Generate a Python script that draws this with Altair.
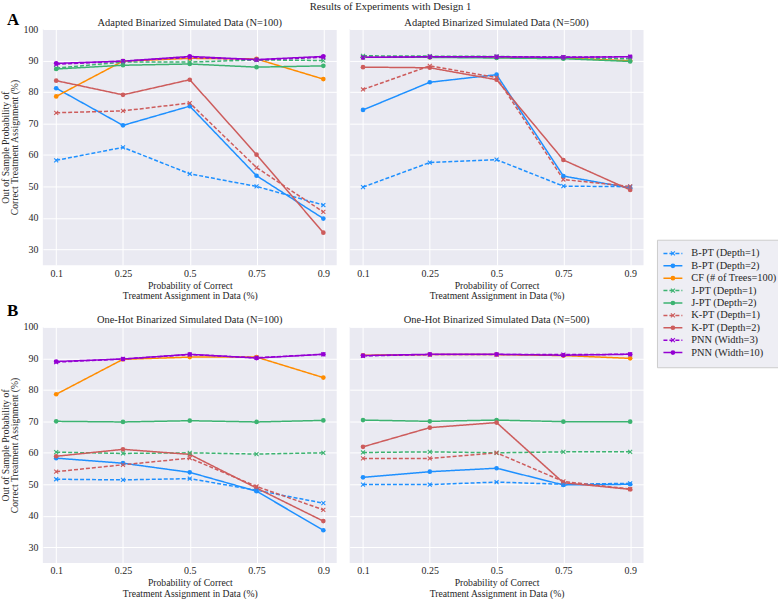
import altair as alt
import pandas as pd

# Treatment-assignment probabilities on the x axis
probs = ["0.1", "0.25", "0.5", "0.75", "0.9"]

series = [
    "B-PT (Depth=1)", "B-PT (Depth=2)", "CF (# of Trees=100)",
    "J-PT (Depth=1)", "J-PT (Depth=2)", "K-PT (Depth=1)",
    "K-PT (Depth=2)", "PNN (Width=3)", "PNN (Width=10)",
]
colors = ["#1e90ff", "#1e90ff", "#ff8c00", "#3cb371", "#3cb371",
          "#cd5c5c", "#cd5c5c", "#9400d3", "#9400d3"]
dashes = [[4, 2], [1, 0], [1, 0], [4, 2], [1, 0], [4, 2], [1, 0], [4, 2], [1, 0]]
markers = ["x", "o", "o", "x", "o", "x", "o", "x", "o"]

# Out-of-sample accuracy (%) per method, one list per probability level
adapted_100 = {
    "B-PT (Depth=1)": [58.3, 62.4, 54.0, 50.0, 44.1],
    "B-PT (Depth=2)": [81.2, 69.4, 75.5, 53.4, 39.8],
    "CF (# of Trees=100)": [78.6, 89.8, 90.7, 90.5, 84.1],
    "J-PT (Depth=1)": [87.6, 89.5, 89.5, 90.2, 90.0],
    "J-PT (Depth=2)": [87.3, 88.5, 88.9, 87.9, 88.3],
    "K-PT (Depth=1)": [73.4, 74.0, 76.5, 56.0, 41.9],
    "K-PT (Depth=2)": [83.6, 79.1, 83.9, 60.1, 35.3],
    "PNN (Width=3)": [88.8, 89.8, 91.0, 90.2, 91.0],
    "PNN (Width=10)": [89.1, 89.8, 91.3, 90.3, 91.3],
}
adapted_500 = {
    "B-PT (Depth=1)": [49.8, 57.6, 58.5, 50.1, 49.9],
    "B-PT (Depth=2)": [74.3, 83.1, 85.5, 53.3, 49.5],
    "CF (# of Trees=100)": [91.0, 91.0, 91.0, 90.8, 89.9],
    "J-PT (Depth=1)": [91.5, 91.4, 91.3, 91.0, 90.5],
    "J-PT (Depth=2)": [91.0, 91.0, 90.8, 90.6, 89.7],
    "K-PT (Depth=1)": [80.8, 88.3, 84.6, 52.2, 50.0],
    "K-PT (Depth=2)": [87.9, 87.7, 83.9, 58.4, 48.9],
    "PNN (Width=3)": [91.0, 91.2, 91.2, 91.1, 91.2],
    "PNN (Width=10)": [91.0, 91.2, 91.2, 91.0, 91.2],
}
onehot_100 = {
    "B-PT (Depth=1)": [51.6, 51.4, 51.8, 48.1, 44.0],
    "B-PT (Depth=2)": [58.3, 56.7, 53.8, 47.8, 35.4],
    "CF (# of Trees=100)": [78.6, 89.7, 90.4, 90.4, 83.9],
    "J-PT (Depth=1)": [60.2, 59.8, 60.0, 59.6, 60.0],
    "J-PT (Depth=2)": [70.0, 69.8, 70.2, 69.8, 70.3],
    "K-PT (Depth=1)": [54.0, 56.2, 58.3, 49.3, 41.9],
    "K-PT (Depth=2)": [58.9, 61.1, 59.5, 48.8, 38.3],
    "PNN (Width=3)": [88.8, 89.8, 91.2, 90.2, 91.3],
    "PNN (Width=10)": [89.0, 89.8, 91.3, 90.1, 91.3],
}
onehot_500 = {
    "B-PT (Depth=1)": [49.9, 49.9, 50.7, 50.0, 50.3],
    "B-PT (Depth=2)": [52.2, 54.0, 55.1, 49.8, 50.0],
    "CF (# of Trees=100)": [91.0, 91.2, 91.2, 90.9, 90.0],
    "J-PT (Depth=1)": [60.1, 60.3, 60.0, 60.3, 60.3],
    "J-PT (Depth=2)": [70.4, 70.0, 70.4, 69.9, 69.9],
    "K-PT (Depth=1)": [58.2, 58.2, 60.0, 50.9, 48.5],
    "K-PT (Depth=2)": [61.9, 68.0, 69.6, 50.5, 48.4],
    "PNN (Width=3)": [90.8, 91.2, 91.2, 91.2, 91.3],
    "PNN (Width=10)": [90.9, 91.3, 91.3, 91.0, 91.3],
}

FONT = "Liberation Serif, Times New Roman, serif"
TEXT = "#262626"
W, H = 295, 237
Y_TICKS = list(range(30, 101, 10))

color_scale = alt.Scale(domain=series, range=colors)
dash_scale = alt.Scale(domain=series, range=dashes)
x_enc = alt.X("prob:N", sort=probs,
              scale=alt.Scale(type="point", padding=0.2),
              axis=alt.Axis(labelAngle=0, labelFont=FONT, labelFontSize=10,
                            labelPadding=3, titlePadding=2,
                            titleLineHeight=10.3,
                            title=["Probability of Correct",
                                   "Treatment Assignment in Data (%)"]))
y_scale = alt.Scale(domain=[25, 100], nice=False, zero=False)


def to_frame(values):
    rows = []
    for s, m in zip(series, markers):
        for p, v in zip(probs, values[s]):
            rows.append({"series": s, "marker": m, "prob": p, "acc": v})
    return pd.DataFrame(rows)


def text_layer(txt, size, weight, x, y, align="center", color=TEXT):
    return alt.Chart(pd.DataFrame({"t": [txt]})).mark_text(
        font=FONT, fontSize=size, fontWeight=weight, color=color,
        align=align, baseline="middle"
    ).encode(x=alt.value(x), y=alt.value(y), text="t:N")


def legend_layers():
    """Hand-built legend: line sample + marker + label for every method."""
    leg = pd.DataFrame({"series": series, "marker": markers})
    leg_y = alt.Y("series:N", sort=series,
                  scale=alt.Scale(domain=series, range=[219, 331]),
                  axis=None)
    one = pd.DataFrame({"k": [0]})
    frame_c = "#cccccc"
    box = alt.Chart(one).mark_rect(fill="#eeeef4").encode(
        x=alt.value(309), x2=alt.value(430),
        y=alt.value(212), y2=alt.value(340))
    edge_l = alt.Chart(one).mark_rule(color=frame_c).encode(
        x=alt.value(309), y=alt.value(212), y2=alt.value(340))
    edge_t = alt.Chart(one).mark_rule(color=frame_c).encode(
        x=alt.value(309), x2=alt.value(430), y=alt.value(212))
    edge_b = alt.Chart(one).mark_rule(color=frame_c).encode(
        x=alt.value(309), x2=alt.value(430), y=alt.value(340))
    leg_lines = alt.Chart(leg).mark_rule(strokeWidth=1.5).encode(
        x=alt.value(315), x2=alt.value(334), y=leg_y,
        color=alt.Color("series:N", scale=color_scale, legend=None),
        strokeDash=alt.StrokeDash("series:N", scale=dash_scale, legend=None),
    )
    leg_dots = alt.Chart(leg).transform_filter(
        alt.datum.marker == "o").mark_point(
        shape="circle", filled=True, size=22, opacity=1
    ).encode(x=alt.value(324.5), y=leg_y,
             color=alt.Color("series:N", scale=color_scale, legend=None))
    leg_x = alt.Chart(leg).transform_filter(
        alt.datum.marker == "x").mark_point(
        shape="M-1,-1L1,1M-1,1L1,-1", filled=False, size=16,
        strokeWidth=1.1, opacity=1
    ).encode(x=alt.value(324.5), y=leg_y,
             color=alt.Color("series:N", scale=color_scale, legend=None))
    leg_text = alt.Chart(leg).mark_text(
        font=FONT, fontSize=10.4, color=TEXT, align="left",
        baseline="middle"
    ).encode(x=alt.value(343), y=leg_y, text="series:N")
    return [box, edge_l, edge_t, edge_b, leg_lines, leg_dots, leg_x, leg_text]


def panel(values, title, show_y, letter=None, extras=()):
    base = alt.Chart(to_frame(values))
    if show_y:
        y_axis = alt.Axis(values=Y_TICKS, labelFont=FONT, labelFontSize=10,
                          labelPadding=5, titlePadding=3,
                          titleLineHeight=9.5,
                          title=["Out of Sample Probability of",
                                 "Correct Treatment Assignment (%)"])
    else:
        y_axis = alt.Axis(values=Y_TICKS, labels=False, title=None)
    lines = base.mark_line(strokeWidth=1.5).encode(
        x=x_enc,
        y=alt.Y("acc:Q", scale=y_scale, axis=y_axis),
        color=alt.Color("series:N", scale=color_scale, legend=None),
        strokeDash=alt.StrokeDash("series:N", scale=dash_scale, legend=None),
        order=alt.Order("prob_idx:Q"),
    ).transform_calculate(prob_idx="indexof(%s, datum.prob)" % probs)
    dots = base.transform_filter(alt.datum.marker == "o").mark_point(
        shape="circle", filled=True, size=22, opacity=1
    ).encode(
        x=x_enc,
        y=alt.Y("acc:Q", scale=y_scale, axis=None),
        color=alt.Color("series:N", scale=color_scale, legend=None),
    )
    crosses = base.transform_filter(alt.datum.marker == "x").mark_point(
        shape="M-1,-1L1,1M-1,1L1,-1", filled=False, size=16,
        strokeWidth=1.1, opacity=1
    ).encode(
        x=x_enc,
        y=alt.Y("acc:Q", scale=y_scale, axis=None),
        color=alt.Color("series:N", scale=color_scale, legend=None),
    )
    layers = [lines, dots, crosses,
              text_layer(title, 10.5, "normal", W / 2, -6.5)]
    if letter:
        layers.append(text_layer(letter, 17, "bold", -36, letter_y[letter],
                                 align="left", color="black"))
    layers += list(extras)
    return alt.layer(*layers).resolve_scale(y="independent").properties(
        width=W, height=H)


letter_y = {"A": -9.5, "B": -16}
# figure heading, centred over the whole figure
heading = text_layer("Results of Experiments with Design 1", 10.7, "normal",
                     41, -22)

chart = alt.concat(
    panel(adapted_100, "Adapted Binarized Simulated Data (N=100)", True, "A"),
    panel(adapted_500, "Adapted Binarized Simulated Data (N=500)", False,
          extras=[heading] + legend_layers()),
    panel(onehot_100, "One-Hot Binarized Simulated Data (N=100)", True, "B"),
    panel(onehot_500, "One-Hot Binarized Simulated Data (N=500)", False),
    columns=2,
    spacing=alt.RowColnumber(row=62, column=13),
).properties(
    bounds="flush",
    padding={"left": 0, "top": 0, "right": 0, "bottom": 0},
    background="white",
).configure_view(
    fill="#eaeaf2", strokeWidth=0
).configure_axis(
    domain=False, ticks=False, grid=True, gridColor="white", gridWidth=1,
    labelFont=FONT, labelFontSize=10, labelColor=TEXT,
    titleFont=FONT, titleFontSize=9.7, titleColor=TEXT,
    titleFontWeight="normal",
)

chart.save("out.html", embed_options={"renderer": "svg", "actions": False})
